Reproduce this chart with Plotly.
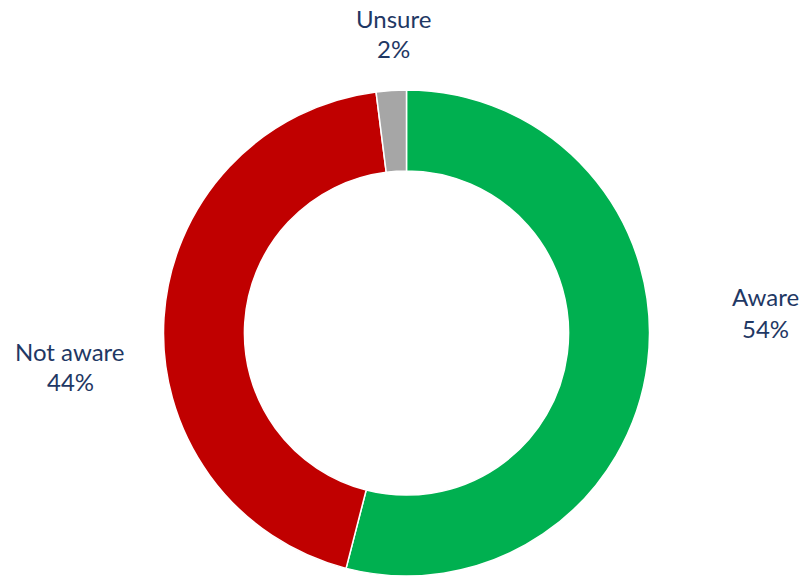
import plotly.graph_objects as go

labels = ["Aware", "Not aware", "Unsure"]
values = [54, 44, 2]
colors = ["#00B050", "#C00000", "#A6A6A6"]

W, H = 801, 576
# label anchor positions (pixels): x center, y of name line, y of percent line
label_px = [(765, 296, 328), (70, 351, 381), (393, 18, 49)]

fig = go.Figure(go.Pie(
    labels=labels,
    values=values,
    marker=dict(colors=colors, line=dict(color="white", width=1.5)),
    hole=0.667,
    sort=False,
    direction="clockwise",
    rotation=0,
    textinfo="none",
    hoverinfo="label+percent",
    domain=dict(x=[163.5 / W, 649.5 / W], y=[0, 1 - 90 / H]),
    showlegend=False,
))

font = dict(family="Lato, Noto Sans, sans-serif", size=24, color="#1F3864")
for lab, val, (px, py1, py2) in zip(labels, values, label_px):
    for txt, py in ((lab, py1), (f"{val}%", py2)):
        fig.add_annotation(
            x=px / W, y=1 - py / H, xref="paper", yref="paper",
            text=txt, showarrow=False, font=font,
            xanchor="center", yanchor="middle",
        )

fig.update_layout(
    width=W, height=H,
    margin=dict(l=0, r=0, t=0, b=0),
    paper_bgcolor="white", plot_bgcolor="white",
)

fig.write_html("out.html", config={"displayModeBar": False},
               post_script="document.body.style.margin='0';")
